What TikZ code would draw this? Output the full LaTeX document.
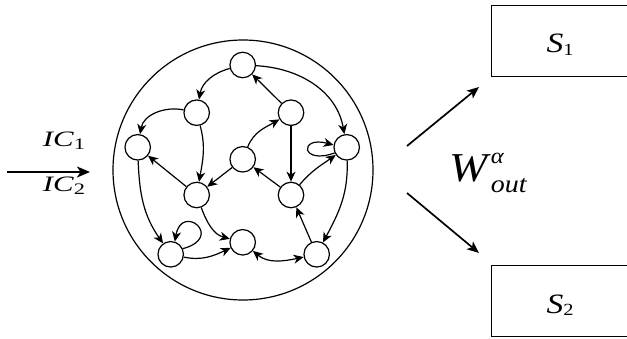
\documentclass[tikz,border=0pt]{standalone}
\usepackage{fontspec}
\setmainfont{Liberation Serif}
\usetikzlibrary{arrows.meta}
\tikzset{
  nd/.style={circle,draw,line width=1.2pt,minimum size=25.5pt,inner sep=0pt},
  tip/.tip={Stealth[length=10pt,width=9pt,inset=3pt]},
  arr/.style={line width=1.2pt,-tip},
  darr/.style={line width=1.2pt,tip-tip},
  bigarr/.style={line width=2pt,-{Stealth[length=13pt,width=11pt,inset=3.5pt]}},
  outarr/.style={line width=1.7pt,-{Stealth[length=12pt,width=10pt,inset=3pt]}},
  sbox/.style={draw,line width=1.2pt,minimum width=140pt,minimum height=71pt,inner sep=0pt}
}
\begin{document}
\begin{tikzpicture}[x=1pt,y=1pt]
\useasboundingbox (0,0) rectangle (627,-339);
% reservoir
\node[circle,draw,line width=1.2pt,minimum size=260pt,inner sep=0pt] (res) at (243,-170) {};
\node[nd] (n1) at (242.7,-65) {};
\node[nd] (n2) at (196.7,-112.7) {};
\node[nd] (n3) at (291,-112.7) {};
\node[nd] (n4) at (137.7,-147.3) {};
\node[nd] (n5) at (346.7,-147.3) {};
\node[nd] (n6) at (242.7,-159.3) {};
\node[nd] (n7) at (196.7,-195) {};
\node[nd] (n8) at (291,-195) {};
\node[nd] (n9) at (170.7,-254.3) {};
\node[nd] (n10) at (242.7,-242.3) {};
\node[nd] (n11) at (316.7,-254.3) {};
% edges
\draw[arr] (n1) to[out=195,in=80] (n2);
\draw[arr] (n1) to[out=-3,in=100] (n5);
\draw[arr] (n3) -- (n1);
\draw[arr] (n2) to[out=168,in=80] (n4);
\draw[arr] (n2) to[out=-75,in=80] (n7);
\draw[arr] (n6) to[out=68,in=210] (n3);
\draw[arr] (n3) -- (n8);
\draw[arr] (n6) -- (n7);
\draw[arr] (n7) -- (n4);
\draw[arr] (n8) -- (n6);
\draw[arr] (n8) to[out=50,in=215] (n5);
\draw[arr] (n5.205) .. controls +(200:36) and +(165:36) .. (n5.170);
\draw[arr] (n5) to[out=-88,in=62] (n11);
\draw[arr] (n11) -- (n8);
\draw[arr] (n4) to[out=-88,in=125] (n9);
\draw[arr] (n9.25) .. controls +(15:44) and +(80:40) .. (n9.72);
\draw[arr] (n9) to[out=-12,in=205] (n10);
\draw[arr] (n7) to[out=-70,in=165] (n10);
\draw[darr] (n10) to[out=-40,in=192] (n11);
% input
\coordinate (inA) at (7,-172);
\coordinate (inB) at (90,-172);
\draw[bigarr] (inA) -- (inB);
\node[anchor=base] (ic1) at (64,-147) {\scalebox{1.4}[1]{\fontsize{22}{26}\selectfont\textit{IC}\raisebox{-2.5pt}{\fontsize{16}{16}\selectfont 1}}};
\node[anchor=base] (ic2) at (64,-192) {\scalebox{1.4}[1]{\fontsize{22}{26}\selectfont\textit{IC}\raisebox{-2.5pt}{\fontsize{16}{16}\selectfont 2}}};
% outputs
\node[sbox,anchor=north west] (s1) at (491,-5) {};
\node[sbox,anchor=north west] (s2) at (491,-265) {};
\node[anchor=base] (s1t) at (560,-53) {\scalebox{1.2}[1]{\fontsize{28}{32}\selectfont\textit{S}\raisebox{-2.5pt}{\fontsize{17}{17}\selectfont 1}}};
\node[anchor=base] (s2t) at (560,-313) {\scalebox{1.2}[1]{\fontsize{28}{32}\selectfont\textit{S}\raisebox{-2.5pt}{\fontsize{17}{17}\selectfont 2}}};
\coordinate (oA) at (407,-146);
\coordinate (oB) at (479,-87);
\coordinate (oC) at (407,-193);
\coordinate (oD) at (479,-253);
\draw[outarr] (oA) -- (oB);
\draw[outarr] (oC) -- (oD);
\node[anchor=base west,inner sep=0pt] (w) at (449,-182) {\scalebox{1.12}[1]{\fontsize{41}{45}\selectfont\textit{W}\makebox[0pt][l]{\raisebox{18pt}{\fontsize{22}{22}\selectfont\textit{α}}}\raisebox{-11pt}{\fontsize{25}{25}\selectfont\textit{out}}}};
\end{tikzpicture}
\end{document}
